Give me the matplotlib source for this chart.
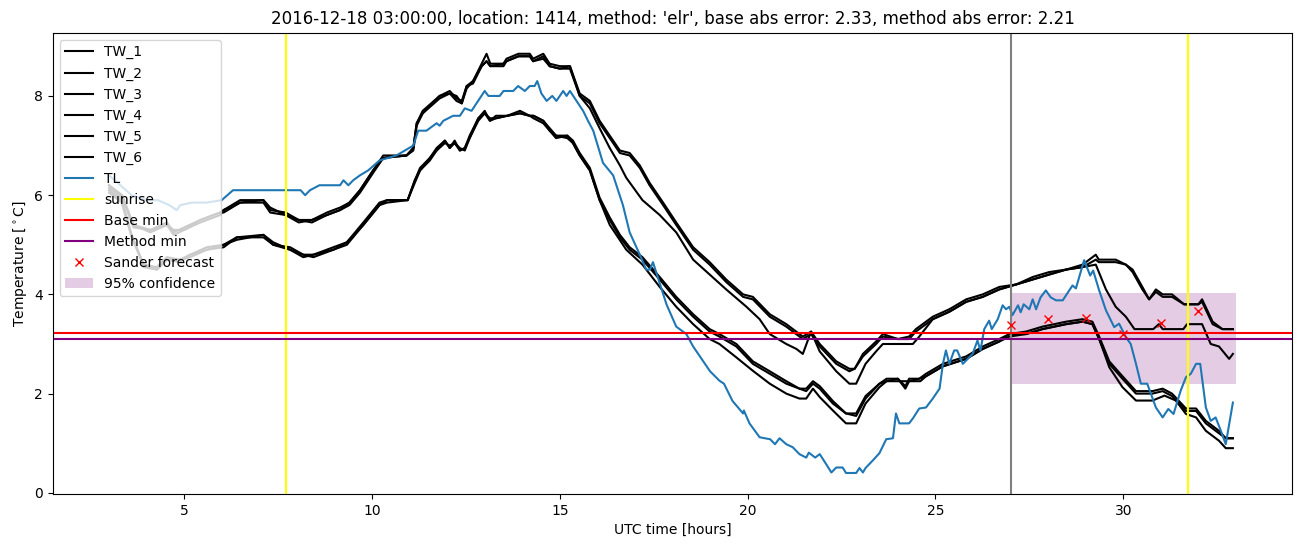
import matplotlib
matplotlib.use("Agg")
import matplotlib.pyplot as plt

# hours (UTC) and temperatures
t_a = [3.0, 3.35, 3.65, 4.1, 4.54, 4.72, 5.0, 5.43, 5.96, 6.05, 6.49, 7.11, 7.29, 7.7, 8.05, 8.4, 8.8, 9.15,
       9.4, 9.68, 10.03, 10.3, 10.92, 11.1, 11.19, 11.35, 11.8, 12.07, 12.25, 12.39, 12.52, 12.69, 12.92, 13.05,
       13.15, 13.5, 13.58, 13.9, 14.2, 14.29, 14.56, 14.73, 15.0, 15.27, 15.53, 15.8, 16.06, 16.33, 16.6, 16.86,
       17.13, 17.39, 17.75, 18.1, 18.55, 18.99, 19.43, 19.88, 20.14, 20.59, 21.03, 21.47, 21.69, 21.92, 22.36,
       22.71, 22.85, 23.07, 23.42, 23.6, 24.0, 24.3, 24.48, 24.93, 25.37, 25.82, 26.26, 26.7, 27.15, 27.59,
       28.03, 28.48, 28.92, 29.27, 29.35, 29.8, 30.07, 30.25, 30.51, 30.69, 30.87, 31.05, 31.3, 31.62, 32.0,
       32.1, 32.38, 32.64, 32.92]
tw_1 = [6.2, 6.0, 5.4, 5.3, 5.45, 5.25, 5.35, 5.5, 5.65, 5.7, 5.9, 5.9, 5.7, 5.65, 5.5, 5.5, 5.65, 5.75, 5.85,
        6.1, 6.5, 6.8, 6.8, 6.95, 7.45, 7.7, 8.0, 8.1, 7.95, 7.9, 8.2, 8.3, 8.65, 8.85, 8.65, 8.65, 8.75, 8.85,
        8.85, 8.75, 8.85, 8.65, 8.6, 8.6, 8.05, 7.9, 7.5, 7.2, 6.9, 6.85, 6.6, 6.25, 5.85, 5.45, 4.95, 4.65,
        4.3, 4.0, 3.95, 3.6, 3.4, 3.15, 3.25, 3.0, 2.65, 2.5, 2.5, 2.8, 3.05, 3.2, 3.1, 3.15, 3.3, 3.55, 3.7,
        3.9, 4.0, 4.15, 4.2, 4.35, 4.45, 4.5, 4.6, 4.8, 4.7, 4.7, 4.6, 4.5, 4.15, 3.9, 4.1, 4.0, 4.0, 3.8, 3.8,
        3.9, 3.45, 3.3, 3.3]
tw_2 = [6.15, 5.95, 5.35, 5.3, 5.4, 5.3, 5.3, 5.45, 5.6, 5.7, 5.85, 5.9, 5.75, 5.6, 5.5, 5.45, 5.6, 5.7, 5.8,
        6.05, 6.45, 6.75, 6.8, 6.9, 7.4, 7.65, 7.95, 8.05, 8.0, 7.85, 8.15, 8.3, 8.6, 8.7, 8.6, 8.65, 8.7, 8.8,
        8.8, 8.7, 8.75, 8.6, 8.55, 8.6, 8.0, 7.85, 7.45, 7.15, 6.85, 6.8, 6.55, 6.2, 5.8, 5.4, 4.9, 4.6, 4.25,
        3.95, 3.9, 3.55, 3.35, 3.1, 3.2, 2.95, 2.6, 2.45, 2.5, 2.75, 3.0, 3.15, 3.1, 3.1, 3.25, 3.5, 3.65, 3.85,
        3.95, 4.1, 4.2, 4.3, 4.4, 4.5, 4.55, 4.7, 4.65, 4.65, 4.6, 4.45, 4.1, 3.9, 4.05, 3.95, 3.95, 3.8, 3.8,
        3.85, 3.4, 3.3, 3.3]

t_b = [3.0, 3.35, 3.65, 4.1, 4.54, 4.72, 5.0, 5.43, 5.96, 6.05, 6.49, 7.11, 7.29, 7.7, 8.05, 8.4, 8.8, 9.15,
       9.4, 9.68, 10.03, 10.3, 10.92, 11.1, 11.19, 11.35, 11.8, 12.07, 12.25, 12.39, 12.52, 12.69, 12.92, 13.05,
       13.15, 13.5, 13.58, 13.9, 14.2, 14.29, 14.56, 14.73, 15.0, 15.27,
       15.53, 15.8, 16.06, 16.33, 16.6, 16.77, 17.2, 17.66, 18.1, 18.55, 18.99, 19.43, 19.97, 20.32, 20.59,
       21.03, 21.3, 21.47, 21.69, 21.92, 22.36, 22.71, 22.89, 23.14, 23.42, 23.6, 24.4, 24.57, 24.93, 25.37,
       25.82, 26.26, 26.7, 27.15, 27.59, 28.03, 28.48, 28.92, 29.27, 29.54, 29.8, 30.07, 30.3, 30.8, 30.95,
       31.05, 31.6, 31.7, 32.1, 32.33, 32.55, 32.82, 32.92]
tw_3 = [6.2, 5.95, 5.4, 5.25, 5.4, 5.2, 5.3, 5.5, 5.65, 5.65, 5.85, 5.85, 5.65, 5.6, 5.45, 5.5, 5.6, 5.7, 5.85,
        6.1, 6.5, 6.75, 6.8, 6.95, 7.45, 7.65, 8.0, 8.05, 7.9, 7.85, 8.2, 8.25, 8.6, 8.7, 8.6, 8.6, 8.7, 8.8,
        8.8, 8.7, 8.8, 8.6, 8.55, 8.55,
        8.0, 7.75, 7.35, 6.95, 6.6, 6.35, 5.9, 5.6, 5.25, 4.7, 4.4, 4.1, 3.75, 3.5, 3.2, 3.0, 2.9, 2.8, 3.25,
        2.85, 2.45, 2.2, 2.2, 2.6, 2.85, 3.0, 3.0, 3.15, 3.5, 3.65, 3.85, 3.95, 4.1, 4.2, 4.3, 4.4, 4.5, 4.55,
        4.6, 4.1, 3.75, 3.55, 3.3, 3.3, 3.4, 3.3, 3.3, 3.4, 3.4, 3.0, 2.95, 2.7, 2.8]

t_c = [3.0, 3.34, 3.6, 3.92, 4.27, 4.54, 4.89, 5.16, 5.6, 6.05, 6.4, 7.11, 7.37, 7.82, 8.17, 8.44, 8.97, 9.33,
       9.77, 10.2, 10.4, 10.95, 11.14, 11.28, 11.54, 11.72, 11.94, 12.07, 12.2, 12.34, 12.47, 12.6, 12.83, 13.0,
       13.14, 13.3, 13.6, 13.94, 14.2, 14.3, 14.56, 14.73, 14.9, 15.2, 15.35, 15.53, 15.8, 16.06, 16.33, 16.6,
       16.86, 17.2, 17.66, 18.1, 18.55, 18.99, 19.25, 19.7, 20.14, 20.59, 21.03, 21.38, 21.56, 21.74, 21.92,
       22.27, 22.62, 22.89, 23.14, 23.51, 23.7, 24.0, 24.2, 24.3, 24.57, 24.75, 25.2, 25.82, 26.26, 26.7,
       26.97, 27.41, 27.85, 28.48, 28.92, 29.18, 29.36, 29.63, 29.98, 30.34, 30.78, 31.05, 31.3, 31.67, 31.94,
       32.2, 32.55, 32.73, 32.92]
tw_4 = [6.1, 5.9, 5.2, 4.6, 4.55, 4.75, 4.7, 4.8, 4.95, 5.0, 5.15, 5.2, 5.0, 4.95, 4.8, 4.8, 4.95, 5.05, 5.45,
        5.85, 5.9, 5.9, 6.3, 6.55, 6.75, 6.95, 7.1, 6.95, 7.1, 6.9, 6.95, 7.2, 7.55, 7.7, 7.5, 7.6, 7.6, 7.7,
        7.6, 7.6, 7.5, 7.35, 7.2, 7.2, 7.1, 6.85, 6.55, 5.95, 5.55, 5.2, 4.95, 4.75, 4.35, 3.95, 3.6, 3.3, 3.2,
        3.0, 2.65, 2.45, 2.25, 2.1, 2.1, 2.25, 2.15, 1.85, 1.6, 1.6, 1.95, 2.2, 2.3, 2.3, 2.15, 2.3, 2.3, 2.4,
        2.6, 2.75, 2.95, 3.1, 3.2, 3.25, 3.35, 3.45, 3.5, 3.45, 3.15, 2.65, 2.35, 2.05, 2.05, 2.1, 2.0, 1.7,
        1.7, 1.45, 1.25, 1.1, 1.1]
tw_5 = [6.05, 5.85, 5.15, 4.6, 4.5, 4.7, 4.7, 4.75, 4.9, 5.0, 5.1, 5.2, 5.05, 4.9, 4.8, 4.75, 4.9, 5.0, 5.4,
        5.8, 5.9, 5.9, 6.25, 6.5, 6.7, 6.9, 7.05, 7.0, 7.05, 6.95, 6.9, 7.15, 7.5, 7.65, 7.55, 7.55, 7.6, 7.65,
        7.6, 7.55, 7.45, 7.3, 7.2, 7.15, 7.05, 6.8, 6.5, 5.9, 5.5, 5.15, 4.9, 4.7, 4.3, 3.9, 3.55, 3.25, 3.15,
        2.95, 2.6, 2.4, 2.2, 2.1, 2.05, 2.2, 2.1, 1.8, 1.6, 1.55, 1.9, 2.2, 2.25, 2.3, 2.1, 2.25, 2.3, 2.35,
        2.55, 2.7, 2.9, 3.05, 3.2, 3.2, 3.3, 3.4, 3.45, 3.4, 3.1, 2.6, 2.3, 2.0, 2.0, 2.05, 1.95, 1.65, 1.65,
        1.4, 1.2, 1.1, 1.1]

t_d = [3.0, 3.34, 3.6, 3.92, 4.27, 4.54, 4.89, 5.16, 5.6, 6.05, 6.4, 7.11, 7.37, 7.82, 8.17, 8.44, 8.97, 9.33,
       9.77, 10.2, 10.4, 10.95, 11.14, 11.28, 11.54, 11.72, 11.94, 12.07, 12.2, 12.34, 12.47, 12.6, 12.83, 13.0,
       13.14, 13.3, 13.6, 13.94, 14.2, 14.3, 14.56, 14.73, 14.9, 15.2, 15.35, 15.53, 15.8,
       16.06, 16.33, 16.77, 17.2, 17.66, 18.1, 18.55, 18.99, 19.25, 19.7, 20.14, 20.59, 21.03, 21.38, 21.56,
       21.74, 21.92, 22.27, 22.62, 22.89, 23.14, 23.51, 23.7, 24.6, 24.75, 25.2, 25.82, 26.26, 26.7, 26.97,
       27.41, 27.85, 28.48, 28.92, 29.18, 29.36, 29.63, 29.98, 30.34, 30.78, 31.1, 31.4, 31.67, 31.94, 32.2,
       32.55, 32.73, 32.92]
tw_6 = [6.1, 5.85, 5.2, 4.55, 4.5, 4.7, 4.65, 4.8, 4.9, 4.95, 5.15, 5.15, 5.0, 4.9, 4.75, 4.8, 4.9, 5.05, 5.4,
        5.8, 5.85, 5.9, 6.3, 6.5, 6.75, 6.9, 7.1, 6.95, 7.05, 6.9, 6.95, 7.15, 7.55, 7.65, 7.5, 7.55, 7.6, 7.65,
        7.6, 7.6, 7.5, 7.3, 7.15, 7.2, 7.05, 6.8, 6.5,
        5.9, 5.4, 4.9, 4.6, 4.15, 3.75, 3.4, 3.1, 3.0, 2.73, 2.46, 2.2, 2.0, 1.9, 1.9, 2.1, 1.93, 1.66, 1.4,
        1.4, 1.8, 2.13, 2.25, 2.25, 2.35, 2.55, 2.7, 2.9, 3.05, 3.15, 3.2, 3.3, 3.4, 3.45, 3.4, 3.1, 2.53,
        2.13, 1.86, 1.86, 1.96, 1.86, 1.59, 1.52, 1.25, 1.05, 0.9, 0.9]

t_tl = [3.0, 3.3, 3.6, 4.0, 4.3, 4.6, 4.8, 4.9, 5.2, 5.6, 6.0, 6.15, 6.3, 8.1, 8.22, 8.35, 8.6, 9.15, 9.24,
        9.37, 9.5, 9.68, 9.9, 10.2, 10.65, 11.1, 11.23, 11.45, 11.72, 11.8, 11.9, 12.16, 12.34, 12.47, 12.65,
        13.0, 13.1, 13.4, 13.5, 13.76, 13.89, 14.07, 14.2, 14.33, 14.4, 14.51, 14.65, 14.8, 14.91, 15.09, 15.18,
        15.27, 15.4, 15.62, 15.75, 15.89, 16.15, 16.42, 16.68, 16.86, 17.13, 17.3, 17.4, 17.48, 17.84, 18.1,
        18.37, 18.55, 19.0, 19.25, 19.37, 19.6, 19.88, 19.9, 20.05, 20.32, 20.6, 20.73, 20.85, 21.03, 21.2,
        21.38, 21.56, 21.63, 21.8, 21.92, 22.09, 22.23, 22.36, 22.53, 22.62, 22.89, 22.98, 23.07, 23.14, 23.33,
        23.51, 23.69, 23.87, 23.95, 24.04, 24.3, 24.4, 24.57, 24.75, 24.93, 25.11, 25.2, 25.28, 25.37, 25.5,
        25.58, 25.73, 25.99, 26.12, 26.2, 26.3, 26.43, 26.5, 26.66, 26.79, 26.88, 26.97, 27.05, 27.2, 27.27,
        27.35, 27.5, 27.59, 27.68, 27.8, 27.94, 28.07, 28.21, 28.39, 28.65, 28.74, 28.96, 29.12, 29.2, 29.36,
        29.54, 29.76, 29.89, 30.07, 30.2, 30.34, 30.47, 30.64, 30.87, 31.05, 31.2, 31.34, 31.53, 31.67, 31.8,
        31.94, 32.05, 32.2, 32.33, 32.46, 32.6, 32.73, 32.92]
tl = [6.4, 6.2, 6.0, 5.9, 5.9, 5.8, 5.7, 5.8, 5.85, 5.85, 5.9, 6.0, 6.1, 6.1, 6.0, 6.1, 6.2, 6.2, 6.3, 6.2,
      6.3, 6.4, 6.5, 6.7, 6.8, 7.0, 7.3, 7.3, 7.45, 7.4, 7.5, 7.6, 7.6, 7.75, 7.7, 8.1, 8.0, 8.0, 8.1, 8.1,
      8.2, 8.1, 8.2, 8.2, 8.3, 8.05, 7.9, 8.0, 7.9, 8.1, 8.0, 8.1, 7.95, 7.7, 7.5, 7.3, 6.65, 6.4, 5.8, 5.25,
      4.8, 4.5, 4.5, 4.65, 3.8, 3.35, 3.2, 2.95, 2.45, 2.26, 2.2, 1.85, 1.6, 1.66, 1.4, 1.12, 1.08, 0.98, 1.1,
      0.98, 0.92, 0.78, 0.71, 0.81, 0.71, 0.78, 0.58, 0.41, 0.51, 0.51, 0.4, 0.4, 0.5, 0.41, 0.5, 0.65, 0.8,
      1.08, 1.1, 1.6, 1.4, 1.4, 1.5, 1.7, 1.72, 1.9, 2.1, 2.6, 2.87, 2.6, 2.87, 2.87, 2.6, 2.8, 3.07, 2.87,
      3.3, 3.47, 3.3, 3.5, 3.78, 3.7, 3.75, 3.58, 3.78, 3.64, 3.8, 3.7, 3.9, 3.7, 3.94, 4.08, 3.94, 3.88, 3.88,
      4.18, 4.12, 4.69, 4.38, 4.48, 4.08, 3.68, 3.34, 3.41, 3.14, 3.0, 2.6, 2.2, 2.2, 1.72, 1.52, 1.69, 1.59,
      2.06, 2.33, 2.4, 2.6, 2.6, 1.72, 1.45, 1.52, 1.25, 0.98, 1.82]

sunrise = [7.72, 31.72]
now_hour = 27
base_min = 3.22
method_min = 3.10
sander_t = [27, 28, 29, 30, 31, 32]
sander_v = [3.39, 3.51, 3.53, 3.21, 3.43, 3.66]
conf_t = [27, 33]
conf_low = [2.2, 2.2]
conf_high = [4.03, 4.03]

fig, ax = plt.subplots(figsize=(13.02, 5.47), dpi=100)
fig.subplots_adjust(left=0.0405, right=0.9925, bottom=0.097, top=0.940)

tw = [(t_a, tw_1), (t_a, tw_2), (t_b, tw_3), (t_c, tw_4), (t_c, tw_5), (t_d, tw_6)]
for i, (t, v) in enumerate(tw):
    ax.plot(t, v, color='black', lw=1.5, label='TW_%d' % (i + 1))
ax.plot(t_tl, tl, color='C0', lw=1.5, label='TL')

ax.axvline(sunrise[0], color='yellow', label='sunrise')
ax.axvline(sunrise[1], color='yellow')
ax.axvline(now_hour, color='grey')
ax.axhline(base_min, color='red', label='Base min')
ax.axhline(method_min, color='purple', label='Method min')
ax.plot(sander_t, sander_v, 'x', color='red', label='Sander forecast')
ax.fill_between(conf_t, conf_low, conf_high, color='purple', alpha=0.2, lw=0, label='95% confidence')

ax.set_title("2016-12-18 03:00:00, location: 1414, method: 'elr', base abs error: 2.33, method abs error: 2.21")
ax.set_xlabel('UTC time [hours]')
ax.set_ylabel(r'Temperature [$^\circ$C]')
ax.legend(loc='upper left')

fig.savefig('out.png', dpi=100)
